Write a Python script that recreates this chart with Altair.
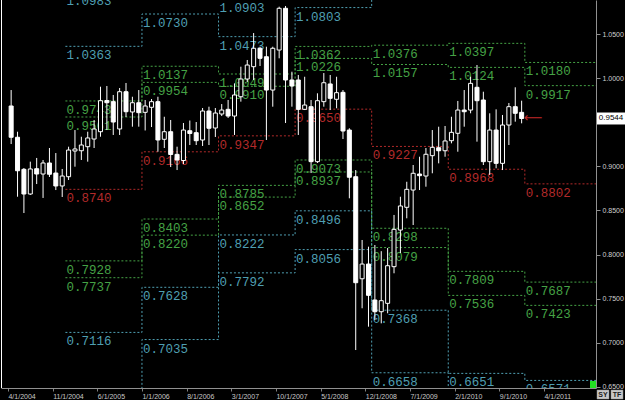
import json
import altair as alt
import pandas as pd
import numpy as np

# ---------------- data ----------------
# monthly candles starting April 2004
START = "2004-04-01"
opens = [0.9686, 0.9331, 0.8967, 0.8687, 0.8974, 0.8914, 0.9039, 0.8925, 0.8778, 0.8883,
         0.9175, 0.9178, 0.9224, 0.9311, 0.9394, 0.9748, 0.9735, 0.9425, 0.9848, 0.9618,
         0.9723, 0.9614, 0.9671, 0.9735, 0.9308, 0.9394, 0.9137, 0.9067, 0.9405, 0.9383,
         0.9300, 0.9629, 0.9436, 0.9595, 0.9648, 0.9572, 0.9791, 0.9992, 1.0132, 1.0341,
         1.0245, 0.9867, 1.0321, 1.0795, 0.9981, 0.9981, 0.9648, 0.9678, 0.9054, 0.9735,
         0.9936, 0.9762, 0.9841, 0.9413, 0.8883, 0.7725, 0.7892, 0.7484, 0.7351, 0.7446,
         0.7862, 0.8278, 0.8536, 0.8732, 0.8914, 0.8891, 0.9122, 0.9212, 0.9178, 0.9292,
         0.9376, 0.9640, 0.9640, 0.9898, 0.9754, 0.9054, 0.9413, 0.9035, 0.9470, 0.9678,
         0.9614]
highs = [0.9867, 0.9394, 0.8982, 0.9054, 0.9096, 0.9073, 0.9209, 0.9152, 0.8971, 0.9224,
         0.9413, 0.9337, 0.9394, 0.9527, 0.9905, 0.9913, 0.9811, 0.9890, 0.9947, 0.9791,
         0.9867, 0.9754, 0.9765, 0.9791, 0.9564, 0.9527, 0.9224, 0.9493, 0.9521, 0.9504,
         0.9663, 0.9678, 0.9663, 0.9708, 0.9754, 0.9943, 1.0132, 1.0208, 1.0514, 1.0359,
         1.0359, 1.0359, 1.0813, 1.0821, 1.0075, 1.0038, 1.0018, 0.9754, 0.9830, 1.0060,
         1.0038, 1.0018, 0.9867, 0.9433, 0.8959, 0.8165, 0.8089, 0.8108, 0.8038, 0.8074,
         0.8449, 0.8656, 0.8826, 0.9016, 0.9110, 0.9209, 0.9413, 0.9451, 0.9459, 0.9564,
         0.9743, 0.9867, 1.0018, 1.0151, 0.9848, 0.9603, 0.9648, 0.9584, 0.9720, 0.9898,
         0.9746]
lows = [0.9254, 0.8656, 0.8471, 0.8676, 0.8800, 0.8642, 0.8880, 0.8732, 0.8653, 0.8846,
        0.8997, 0.9073, 0.9054, 0.9209, 0.9337, 0.9413, 0.9357, 0.9357, 0.9561, 0.9451,
        0.9451, 0.9408, 0.9447, 0.9167, 0.9209, 0.8993, 0.8959, 0.9027, 0.9243, 0.9243,
        0.9232, 0.9243, 0.9334, 0.9572, 0.9550, 0.9357, 0.9735, 0.9958, 0.9981, 1.0140,
        0.9300, 0.9678, 1.0227, 0.9493, 0.9678, 0.9357, 0.9640, 0.8925, 0.9039, 0.9678,
        0.9640, 0.9660, 0.9311, 0.8638, 0.6916, 0.7390, 0.7181, 0.7257, 0.7219, 0.7333,
        0.7787, 0.8017, 0.8411, 0.8335, 0.8732, 0.8770, 0.8922, 0.9035, 0.9110, 0.9262,
        0.9167, 0.9451, 0.9603, 0.9281, 0.9016, 0.8903, 0.8979, 0.8959, 0.9243, 0.9508,
        0.9489]
closes = [0.9331, 0.8951, 0.8687, 0.8971, 0.8914, 0.9039, 0.8911, 0.8778, 0.8891, 0.9186,
          0.9198, 0.9243, 0.9323, 0.9425, 0.9746, 0.9723, 0.9504, 0.9848, 0.9621, 0.9723,
          0.9610, 0.9686, 0.9735, 0.9300, 0.9394, 0.9135, 0.9073, 0.9413, 0.9374, 0.9292,
          0.9629, 0.9433, 0.9606, 0.9640, 0.9572, 0.9811, 0.9992, 1.0151, 1.0341, 1.0227,
          0.9867, 1.0341, 1.0795, 0.9981, 0.9913, 0.9648, 0.9697, 0.9054, 0.9746, 0.9950,
          0.9773, 0.9837, 0.9402, 0.8877, 0.7680, 0.7892, 0.7537, 0.7351, 0.7476, 0.7873,
          0.8286, 0.8551, 0.8740, 0.8922, 0.8895, 0.9138, 0.9217, 0.9178, 0.9289, 0.9387,
          0.9640, 0.9621, 0.9943, 0.9746, 0.9054, 0.9413, 0.9035, 0.9470, 0.9678, 0.9603,
          0.9544]

# yearly levels (one value per year 2005..2011)
level_years = [2005, 2006, 2007, 2008, 2009, 2010, 2011]
cyan_u1 = [1.0983, 1.1300, 1.0903, 1.1250, 1.1700, 1.1600, 1.1400]
cyan_u2 = [1.0363, 1.0730, 1.0473, 1.0803, 1.1200, 1.1100, 1.1050]
green_u1 = [0.9743, 1.0137, 1.0049, 1.0362, 1.0376, 1.0397, 1.0180]
green_u2 = [0.9561, 0.9954, 0.9910, 1.0226, 1.0157, 1.0124, 0.9917]
red_pivot = [0.8740, 0.9166, 0.9347, 0.9650, 0.9227, 0.8968, 0.8802]
green_l1 = [0.7928, 0.8403, 0.8785, 0.9073, 0.8298, 0.7809, 0.7687]
green_l2 = [0.7737, 0.8220, 0.8652, 0.8937, 0.8079, 0.7536, 0.7423]
cyan_l1 = [0.7116, 0.7628, 0.8222, 0.8496, 0.7368, 0.6651, 0.6571]
cyan_l2 = [0.6300, 0.7035, 0.7792, 0.8056, 0.6658, 0.5900, 0.5800]

tick_labels = ["4/1/2004", "11/1/2004", "6/1/2005", "1/1/2006", "8/1/2006", "3/1/2007",
               "10/1/2007", "5/1/2008", "12/1/2008", "7/1/2009", "2/1/2010", "9/1/2010",
               "4/1/2011"]
tick_months = [0, 7, 14, 21, 28, 35, 42, 49, 56, 63, 70, 77, 84]
y_ticks = [0.65, 0.70, 0.75, 0.80, 0.85, 0.90, 1.00, 1.05]
last_price = 0.9544

# ---------------- frames ----------------
n = len(opens)
candles = pd.DataFrame({
    "m": np.arange(n) + 0.5,
    "date": pd.date_range(START, periods=n, freq="MS").strftime("%Y-%m"),
    "open": opens, "high": highs, "low": lows, "close": closes,
})
candles["up"] = candles["close"] >= candles["open"]

series = [
    ("cyan_u1", "cyan", cyan_u1), ("cyan_u2", "cyan", cyan_u2),
    ("green_u1", "green", green_u1), ("green_u2", "green", green_u2),
    ("red", "red", red_pivot),
    ("green_l1", "green", green_l1), ("green_l2", "green", green_l2),
    ("cyan_l1", "cyan", cyan_l1), ("cyan_l2", "cyan", cyan_l2),
]
seg_start = [(y - 2004) * 12 - 3 for y in level_years]
line_rows, label_rows = [], []
for name, kind, vals in series:
    for k, v in enumerate(vals):
        line_rows.append({"s": name, "kind": kind, "m": seg_start[k], "v": v})
        if 0.645 < v < 1.10:
            label_rows.append({"kind": kind, "m": seg_start[k], "v": v, "t": f"{v:.4f}"})
    line_rows.append({"s": name, "kind": kind, "m": seg_start[-1] + 12, "v": vals[-1]})
lines_df = pd.DataFrame(line_rows)
labels_df = pd.DataFrame(label_rows)

# ---------------- encodings ----------------
xscale = alt.Scale(domain=[-0.308, 91.37], nice=False, zero=False)
yscale = alt.Scale(domain=[0.6485, 1.0889], nice=False, zero=False)
label_expr = json.dumps(tick_labels) + "[round(datum.value/7)]"
xaxis = alt.Axis(values=tick_months, labelExpr=label_expr, labelAlign="left", labelFontSize=7,
                 labelColor="#c8c8c8", labelFont="Liberation Sans", tickSize=3,
                 tickColor="#808080", domainColor="#909090", grid=False, title=None,
                 labelPadding=1, labelOverlap=False, labelFlush=False, orient="bottom")
yaxis = alt.Axis(values=y_ticks, format=".4f", orient="right", labelFontSize=7,
                 labelColor="#d0d0d0", labelFont="Liberation Sans", tickSize=4,
                 tickColor="#909090", domainColor="#909090", grid=False, title=None,
                 labelPadding=2, labelOverlap=False, labelFlush=False)


def X(f):
    return alt.X(f, type="quantitative", scale=xscale, axis=xaxis)


def Y(f):
    return alt.Y(f, type="quantitative", scale=yscale, axis=yaxis)


color_scale = alt.Scale(domain=["cyan", "green", "red"], range=["#4f9fb2", "#45a245", "#b22a2a"])

one = pd.DataFrame({"a": [0]})

left_line = alt.Chart(one).mark_rule(color="white", strokeWidth=1).encode(
    x=alt.value(0.5), y=alt.value(0), y2=alt.value(388))

levels = alt.Chart(lines_df).mark_line(interpolate="step-after", strokeDash=[2, 2],
                                       strokeWidth=1, clip=True).encode(
    x=X("m"), y=Y("v"), detail="s:N",
    color=alt.Color("kind:N", scale=color_scale, legend=None))

level_text = alt.Chart(labels_df).mark_text(align="left", baseline="alphabetic", dx=1, dy=13,
                                            font="Liberation Mono", fontSize=12.5,
                                            clip=True).encode(
    x=X("m"), y=Y("v"), text="t:N",
    color=alt.Color("kind:N", scale=color_scale, legend=None))

wicks = alt.Chart(candles).mark_rule(color="white", strokeWidth=1, clip=True).encode(
    x=X("m"), y=Y("low"), y2="high")

up_bodies = alt.Chart(candles).transform_filter("datum.up").mark_bar(
    size=4, fill="black", stroke="white", strokeWidth=1, clip=True).encode(
    x=X("m"), y=Y("open"), y2="close")

down_bodies = alt.Chart(candles).transform_filter("!datum.up").mark_bar(
    size=4, fill="white", stroke="white", strokeWidth=1, clip=True).encode(
    x=X("m"), y=Y("open"), y2="close")

price_df = pd.DataFrame({"m": [82.3], "p": [last_price], "t": [f"{last_price:.4f}"],
                         "p1": [last_price + 0.0068], "p2": [last_price - 0.0068]})

arrow = alt.Chart(price_df).mark_text(text="⟵", font="DejaVu Sans", fontSize=13,
                                      color="#c02828", baseline="middle").encode(
    x=X("m"), y=Y("p"))

price_box = alt.Chart(price_df).mark_rect(fill="white", clip=False).encode(
    x=alt.value(596), x2=alt.value(625), y=Y("p1"), y2="p2")

price_text = alt.Chart(price_df).mark_text(font="Liberation Sans", fontSize=8, color="black",
                                           align="center", baseline="middle").encode(
    x=alt.value(610), y=Y("p"), text="t:N")

green_sq = alt.Chart(one).mark_rect(fill="#22e022").encode(
    x=alt.value(589), x2=alt.value(595), y=alt.value(381), y2=alt.value(388))

btn_df = pd.DataFrame({"t": ["SY", "TF"], "x0": [596, 610], "x1": [608, 622], "xc": [602, 616]})
buttons = alt.Chart(btn_df).mark_rect(fill="#c8c8c8", stroke="#909090", strokeWidth=0.5).encode(
    x=alt.X("x0:Q", scale=None, axis=None), x2="x1:Q", y=alt.value(390), y2=alt.value(399))
btn_text = alt.Chart(btn_df).mark_text(font="Liberation Sans", fontSize=7, fontWeight="bold",
                                       color="#202020", baseline="middle").encode(
    x=alt.X("xc:Q", scale=None, axis=None), y=alt.value(394.5), text="t:N")

chart = alt.layer(
    levels, level_text, wicks, up_bodies, down_bodies, left_line, arrow,
    price_box, price_text, green_sq, buttons, btn_text
).properties(
    width=595, height=388,
    autosize=alt.AutoSizeParams(type="none"),
    padding={"left": 1, "top": 0, "right": 29, "bottom": 12},
    background="black",
).configure_view(stroke=None)

chart.save("out.html", embed_options={"renderer": "svg", "actions": False})
